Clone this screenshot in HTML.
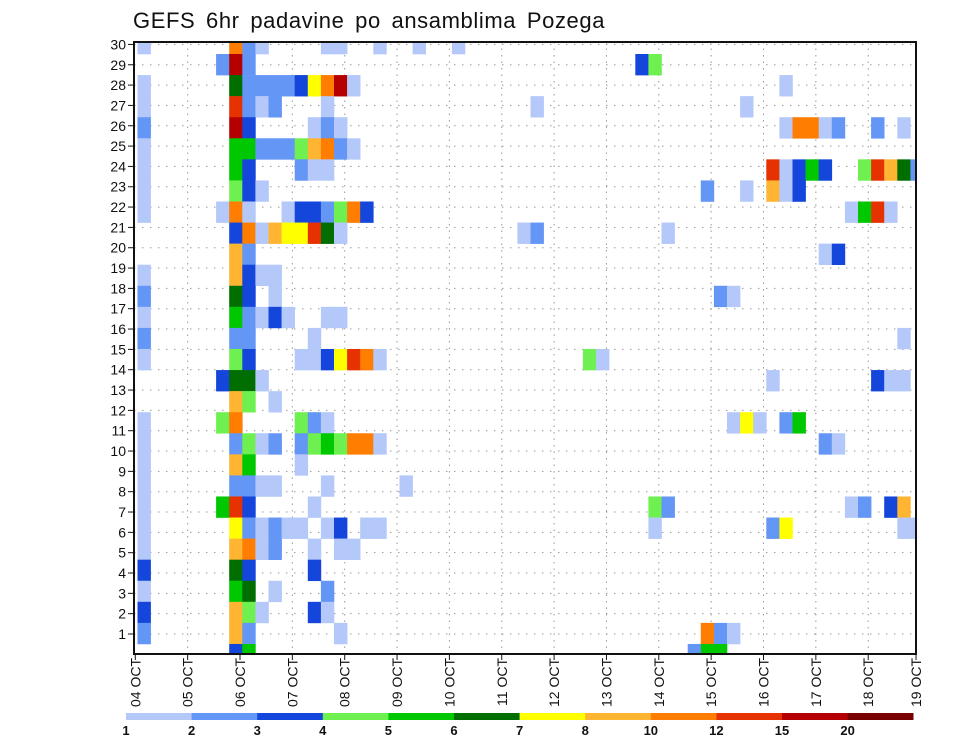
<!DOCTYPE html>
<html><head><meta charset="utf-8"><title>GEFS 6hr padavine po ansamblima Pozega</title>
<style>
html,body{margin:0;padding:0;background:#fff;}
#wrap{position:relative;width:960px;height:742px;overflow:hidden;}
svg text{font-family:"Liberation Sans",sans-serif;fill:#111;}
</style></head>
<body>
<div id="wrap">
<svg id="chart" width="960" height="742" viewBox="0 0 960 742" xmlns="http://www.w3.org/2000/svg">
  <text x="133" y="28" font-size="22" style="letter-spacing:0.6px;word-spacing:4px">GEFS 6hr padavine po ansamblima Pozega</text>
  <defs><clipPath id="plotClip"><rect x="134" y="42" width="782" height="612"/></clipPath></defs>
  <g id="grid"></g>
  <g id="cells" clip-path="url(#plotClip)"></g>
  <rect x="134" y="42" width="782" height="612" fill="none" stroke="#111" stroke-width="2"/>
  <g id="yaxis"></g>
  <g id="xaxis"></g>
  <g id="legend"></g>
</svg>
</div>
<script>
// ---- data: one string per ensemble row (top to bottom), "timeIndex:level" pairs ----
const rowsData = [
"0:1 7:9 8:2 9:1 14:1 15:1 18:1 21:1 24:1",
"6:2 7:11 8:2 38:3 39:4",
"0:1 7:6 8:2 9:2 10:2 11:2 12:3 13:7 14:9 15:11 16:1 49:1",
"0:1 7:10 8:2 9:1 10:2 14:1 30:1 46:1",
"0:2 7:11 8:3 13:1 14:2 15:1 49:1 50:9 51:9 52:1 53:2 56:2 58:1",
"0:1 7:5 8:5 9:2 10:2 11:2 12:4 13:8 14:9 15:2 16:1",
"0:1 7:5 8:3 12:2 13:1 14:1 48:10 49:1 50:3 51:5 52:3 55:4 56:10 57:8 58:6 59:2",
"0:1 7:4 8:3 9:1 43:2 46:1 48:8 49:1 50:3",
"0:1 6:1 7:9 8:1 11:1 12:3 13:3 14:2 15:4 16:9 17:3 54:1 55:5 56:10 57:1",
"7:3 8:9 9:1 10:8 11:7 12:7 13:10 14:6 15:1 29:1 30:2 40:1",
"7:8 8:2 52:1 53:3",
"0:1 7:8 8:3 9:1 10:1",
"0:2 7:6 8:3 10:1 44:2 45:1",
"0:1 7:5 8:2 9:1 10:3 11:1 14:1 15:1",
"0:2 7:2 8:2 13:1 58:1",
"0:1 7:4 8:3 12:1 13:1 14:3 15:7 16:10 17:9 18:1 34:4 35:1",
"6:3 7:6 8:6 9:1 48:1 56:3 57:1 58:1",
"7:8 8:4 10:1",
"0:1 6:4 7:9 12:4 13:2 14:1 45:1 46:7 47:1 49:2 50:5",
"0:1 7:2 8:4 9:1 10:2 12:2 13:4 14:5 15:4 16:9 17:9 18:1 52:2 53:1",
"0:1 7:8 8:5 12:1",
"0:1 7:2 8:2 9:1 10:1 14:1 20:1",
"0:1 6:5 7:10 8:3 13:1 39:4 40:2 54:1 55:2 57:3 58:8",
"0:1 7:7 8:2 9:1 10:2 11:1 12:1 14:1 15:3 17:1 18:1 39:1 48:2 49:7 58:1 59:1",
"0:1 7:8 8:9 9:1 10:2 13:1 15:1 16:1",
"0:3 7:6 8:3 13:3",
"0:1 7:5 8:6 10:1 14:2",
"0:3 7:8 8:4 9:1 13:3 14:1",
"0:2 7:8 8:2 15:1 43:9 44:2 45:1",
"7:3 8:5 42:2 43:5 44:5"
];
const levelColors = ["#b4c8fa","#6496f5","#1446dc","#6ef050","#00c800","#006e00","#ffff00","#ffb432","#ff7d00","#e63200","#b40000","#780000"];
const levelLabels = ["1","2","3","4","5","6","7","8","10","12","15","20"];
const dayLabels = ["04 OCT","05 OCT","06 OCT","07 OCT","08 OCT","09 OCT","10 OCT","11 OCT","12 OCT","13 OCT","14 OCT","15 OCT","16 OCT","17 OCT","18 OCT","19 OCT"];
const memberLabels = [1,2,3,4,5,6,7,8,9,10,11,12,13,14,15,16,17,18,19,20,21,22,23,24,25,26,27,28,29,30];

// ---- scales ----
const NS="http://www.w3.org/2000/svg";
const PL=134, PR=916, PT=42, PB=654;
const cellW=13.1, cellX0=137.5, cellH=21.07, cellY0=32.93;
function xCell(j){return cellX0+cellW*j;}
function yCell(r){return cellY0+cellH*r;}
function xDay(d){return 135.3+52.35*d;}
function yMember(m){return 634-(m-1)*20.33;}
function mk(tag,attrs,parent){const e=document.createElementNS(NS,tag);for(const k in attrs)e.setAttribute(k,attrs[k]);parent.appendChild(e);return e;}

// ---- grid ----
const grid=document.getElementById('grid');
memberLabels.forEach(m=>{
  const l=mk('line',{x1:PL,x2:PR,y1:yMember(m),y2:yMember(m),stroke:'#999','stroke-width':1,'stroke-dasharray':'1.5 6.5'},grid);
  
  
});
dayLabels.forEach((d,i)=>{
  if(i===0||xDay(i)>PR)return;
  const l=mk('line',{x1:xDay(i),x2:xDay(i),y1:PT,y2:PB,stroke:'#999','stroke-width':1,'stroke-dasharray':'1.5 5'},grid);
  
  
});

// ---- cells ----
const cells=document.getElementById('cells');
rowsData.forEach((row,r)=>{
  row.split(' ').forEach(p=>{
    if(!p)return;
    const [j,lv]=p.split(':').map(Number);
    const c=mk('rect',{x:xCell(j).toFixed(2),y:yCell(r).toFixed(2),width:cellW+0.3,height:cellH+0.3,fill:levelColors[lv-1]},cells);
    
    
  });
});

// ---- y axis ----
const ya=document.getElementById('yaxis');
memberLabels.forEach(m=>{
  const y=yMember(m);
  const t=mk('line',{x1:PL-6,x2:PL,y1:y,y2:y,stroke:'#111','stroke-width':1},ya);
  
  
  const tx=mk('text',{x:PL-8,y:y+5,'font-size':14,'text-anchor':'end'},ya);
  tx.textContent=m;
  
  
});

// ---- x axis ----
const xa=document.getElementById('xaxis');
dayLabels.forEach((d,i)=>{
  let x=xDay(i); if(x>PR) x=PR;
  const t=mk('line',{x1:x,x2:x,y1:PB,y2:PB+6,stroke:'#111','stroke-width':1},xa);
  
  
  const tx=mk('text',{x:0,y:0,'font-size':14,'text-anchor':'end',transform:`translate(${x+5},${PB+4}) rotate(-90)`},xa);
  tx.textContent=d;
  
  
});

// ---- legend ----
const lg=document.getElementById('legend');
const LX=126, LW=65.6;
levelColors.forEach((c,i)=>{
  const r=mk('rect',{x:LX+i*LW,y:713,width:LW+0.3,height:7,fill:c},lg);
  
  
  const t=mk('text',{x:LX+i*LW,y:735,'font-size':13,'text-anchor':'middle','font-weight':'bold'},lg);
  t.textContent=levelLabels[i];
  
  
});
</script>
</body></html>
